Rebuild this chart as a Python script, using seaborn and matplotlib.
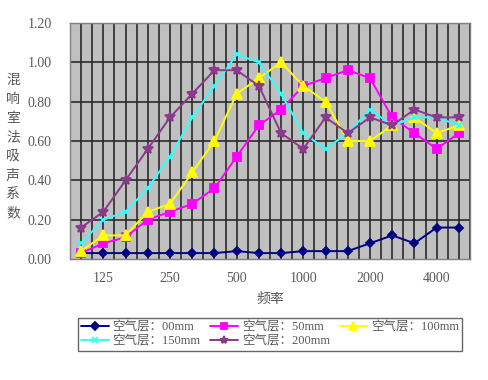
import numpy as np
import pandas as pd
import matplotlib
matplotlib.use("Agg")
import matplotlib.pyplot as plt
import seaborn as sns

freqs = ["100", "125", "160", "200", "250", "315", "400", "500", "630",
         "800", "1000", "1250", "1600", "2000", "2500", "3150", "4000", "5000"]
tick_labels = ["125", "250", "500", "1000", "2000", "4000"]

air_00 = [0.03, 0.03, 0.03, 0.03, 0.03, 0.03, 0.03, 0.04, 0.03,
          0.03, 0.04, 0.04, 0.04, 0.08, 0.12, 0.08, 0.16, 0.16]
air_50 = [0.03, 0.08, 0.11, 0.20, 0.24, 0.28, 0.36, 0.52, 0.68,
          0.76, 0.88, 0.92, 0.96, 0.92, 0.72, 0.64, 0.56, 0.64]
air_100 = [0.04, 0.12, 0.12, 0.24, 0.28, 0.44, 0.60, 0.84, 0.92,
           1.00, 0.88, 0.80, 0.60, 0.60, 0.68, 0.72, 0.64, 0.68]
air_150 = [0.08, 0.20, 0.24, 0.36, 0.52, 0.72, 0.88, 1.04, 1.00,
           0.84, 0.64, 0.56, 0.64, 0.76, 0.68, 0.72, 0.72, 0.68]
air_200 = [0.16, 0.24, 0.40, 0.56, 0.72, 0.84, 0.96, 0.96, 0.88,
           0.64, 0.56, 0.72, 0.64, 0.72, 0.68, 0.76, 0.72, 0.72]

series_names = ["空气层：00mm", "空气层：50mm", "空气层：100mm",
                "空气层：150mm", "空气层：200mm"]
series_vals = [air_00, air_50, air_100, air_150, air_200]
colors = ["#000080", "#FF00FF", "#FFFF00", "#33FFFF", "#8B3A8B"]
markers = ["D", "s", "^", "x", "*"]
msizes = [4.5, 6, 6.5, 5, 7.5]

rows = []
for name, vals in zip(series_names, series_vals):
    for i, (f, v) in enumerate(zip(freqs, vals)):
        rows.append({"idx": i, "freq": f, "value": v, "series": name})
df = pd.DataFrame(rows)

sns.set_theme(style="white")
plt.rcParams["font.family"] = ["Liberation Serif", "Noto Sans CJK SC", "DejaVu Sans"]
text_color = "#5a5a5a"

fig = plt.figure(figsize=(4.88, 3.80), dpi=100)
ax = fig.add_axes([70 / 488, 1 - 259 / 380, 400 / 488, 236 / 380])
ax.set_facecolor("#C0C0C0")

for name, c, m, ms in zip(series_names, colors, markers, msizes):
    sub = df[df["series"] == name]
    sns.lineplot(data=sub, x="idx", y="value", ax=ax, color=c, marker=m,
                 markersize=ms, markeredgecolor=c, markerfacecolor=c,
                 markeredgewidth=1.3, linewidth=1.4, label=name, zorder=3)

ax.set_xlim(-0.5, len(freqs) - 0.5)
ax.set_ylim(0, 1.2)
for xv in np.arange(-0.5, len(freqs), 0.5):
    ax.axvline(xv, color="#2a2a2a", linewidth=1.2, zorder=1)
for yv in np.arange(0.2, 1.2, 0.2):
    ax.axhline(yv, color="#2a2a2a", linewidth=1.2, zorder=1)

tick_pos = [freqs.index(t) for t in tick_labels]
ax.set_xticks(tick_pos)
ax.set_xticklabels(tick_labels, fontsize=10, color=text_color)
yt = np.round(np.arange(0, 1.21, 0.2), 2)
ax.set_yticks(yt)
ax.set_yticklabels([f"{v:.2f}" for v in yt], fontsize=10, color=text_color)
ax.tick_params(axis="x", length=0, pad=9)
ax.tick_params(axis="y", length=0, pad=13)
ax.set_xlabel("频率", fontsize=10, color=text_color, labelpad=6)
ax.set_ylabel("")
for s in ax.spines.values():
    s.set_color("#808080")
    s.set_linewidth(1.0)

fig.text(13 / 488, 1 - 147 / 380, "\n".join("混响室法吸声系数"), fontsize=10,
         color=text_color, ha="center", va="center", linespacing=1.6)

handles, labels = ax.get_legend_handles_labels()
ax.get_legend().remove()
order = [0, 3, 1, 4, 2]
leg = fig.legend([handles[i] for i in order], [labels[i] for i in order],
                 ncol=3, loc="upper left",
                 bbox_to_anchor=(78 / 488, 1 - 318 / 380), frameon=True,
                 fancybox=False, edgecolor="#404040", fontsize=9,
                 handlelength=2.2, handletextpad=0.3, columnspacing=0.8,
                 borderpad=0.25, labelspacing=0.2, labelcolor=text_color,
                 borderaxespad=0, markerscale=0.8)
leg.get_frame().set_linewidth(1.0)

fig.savefig("out.png", dpi=100, facecolor="white")
